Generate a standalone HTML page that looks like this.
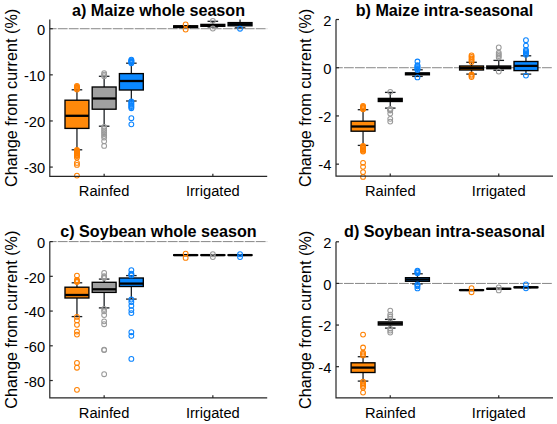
<!DOCTYPE html>
<html><head><meta charset="utf-8"><style>
html,body{margin:0;padding:0;background:#fff;}
body{width:557px;height:424px;overflow:hidden;}
svg{display:block;font-family:"Liberation Sans", sans-serif;}
text{fill:#000;}
</style></head><body>
<svg width="557" height="424" viewBox="0 0 557 424">
<rect width="557" height="424" fill="#fff"/>
<line x1="49.8" y1="28.72" x2="267.2" y2="28.72" stroke="#707070" stroke-width="0.85" stroke-dasharray="9.8 1.2" stroke-dashoffset="3"/>
<line x1="76.95" y1="89.8" x2="76.95" y2="100.2" stroke="#1e2226" stroke-width="1.3"/>
<line x1="76.95" y1="128.4" x2="76.95" y2="149.8" stroke="#1e2226" stroke-width="1.3"/>
<line x1="71.65" y1="89.8" x2="82.25" y2="89.8" stroke="#1e2226" stroke-width="1.3"/>
<line x1="71.65" y1="149.8" x2="82.25" y2="149.8" stroke="#1e2226" stroke-width="1.3"/>
<rect x="65" y="100.2" width="23.9" height="28.2" fill="#ff890a" stroke="#000" stroke-width="1.35"/>
<line x1="65.1" y1="115.8" x2="88.8" y2="115.8" stroke="#000" stroke-width="2.3"/>
<circle cx="76.95" cy="86" r="2.4" fill="none" stroke="#ff8000" stroke-width="1.05"/>
<circle cx="76.95" cy="86.88" r="2.4" fill="none" stroke="#ff8000" stroke-width="1.05"/>
<circle cx="76.95" cy="87.75" r="2.4" fill="none" stroke="#ff8000" stroke-width="1.05"/>
<circle cx="76.95" cy="88.62" r="2.4" fill="none" stroke="#ff8000" stroke-width="1.05"/>
<circle cx="76.95" cy="89.5" r="2.4" fill="none" stroke="#ff8000" stroke-width="1.05"/>
<circle cx="76.95" cy="150" r="2.4" fill="none" stroke="#ff8000" stroke-width="1.05"/>
<circle cx="76.95" cy="150.75" r="2.4" fill="none" stroke="#ff8000" stroke-width="1.05"/>
<circle cx="76.95" cy="151.5" r="2.4" fill="none" stroke="#ff8000" stroke-width="1.05"/>
<circle cx="76.95" cy="152.25" r="2.4" fill="none" stroke="#ff8000" stroke-width="1.05"/>
<circle cx="76.95" cy="153" r="2.4" fill="none" stroke="#ff8000" stroke-width="1.05"/>
<circle cx="76.95" cy="153.75" r="2.4" fill="none" stroke="#ff8000" stroke-width="1.05"/>
<circle cx="76.95" cy="154.5" r="2.4" fill="none" stroke="#ff8000" stroke-width="1.05"/>
<circle cx="76.95" cy="155.25" r="2.4" fill="none" stroke="#ff8000" stroke-width="1.05"/>
<circle cx="76.95" cy="156" r="2.4" fill="none" stroke="#ff8000" stroke-width="1.05"/>
<circle cx="76.95" cy="157.6" r="2.4" fill="none" stroke="#ff8000" stroke-width="1.05"/>
<circle cx="76.95" cy="162.9" r="2.4" fill="none" stroke="#ff8000" stroke-width="1.05"/>
<circle cx="76.95" cy="164.9" r="2.4" fill="none" stroke="#ff8000" stroke-width="1.05"/>
<circle cx="76.95" cy="175.6" r="2.4" fill="none" stroke="#ff8000" stroke-width="1.05"/>
<line x1="104.15" y1="76.3" x2="104.15" y2="87" stroke="#1e2226" stroke-width="1.3"/>
<line x1="104.15" y1="109.2" x2="104.15" y2="126.2" stroke="#1e2226" stroke-width="1.3"/>
<line x1="98.85" y1="76.3" x2="109.45" y2="76.3" stroke="#1e2226" stroke-width="1.3"/>
<line x1="98.85" y1="126.2" x2="109.45" y2="126.2" stroke="#1e2226" stroke-width="1.3"/>
<rect x="92.2" y="87" width="23.9" height="22.2" fill="#a0a0a0" stroke="#000" stroke-width="1.35"/>
<line x1="92.3" y1="98.5" x2="116" y2="98.5" stroke="#000" stroke-width="2.3"/>
<circle cx="104.15" cy="73.2" r="2.4" fill="none" stroke="#9a9a9a" stroke-width="1.05"/>
<circle cx="104.15" cy="74.7" r="2.4" fill="none" stroke="#9a9a9a" stroke-width="1.05"/>
<circle cx="104.15" cy="76.2" r="2.4" fill="none" stroke="#9a9a9a" stroke-width="1.05"/>
<circle cx="104.15" cy="126.8" r="2.4" fill="none" stroke="#9a9a9a" stroke-width="1.05"/>
<circle cx="104.15" cy="128.6" r="2.4" fill="none" stroke="#9a9a9a" stroke-width="1.05"/>
<circle cx="104.15" cy="130.4" r="2.4" fill="none" stroke="#9a9a9a" stroke-width="1.05"/>
<circle cx="104.15" cy="132.2" r="2.4" fill="none" stroke="#9a9a9a" stroke-width="1.05"/>
<circle cx="104.15" cy="134" r="2.4" fill="none" stroke="#9a9a9a" stroke-width="1.05"/>
<circle cx="104.15" cy="135.8" r="2.4" fill="none" stroke="#9a9a9a" stroke-width="1.05"/>
<circle cx="104.15" cy="137.6" r="2.4" fill="none" stroke="#9a9a9a" stroke-width="1.05"/>
<circle cx="104.15" cy="141.2" r="2.4" fill="none" stroke="#9a9a9a" stroke-width="1.05"/>
<circle cx="104.15" cy="145.9" r="2.4" fill="none" stroke="#9a9a9a" stroke-width="1.05"/>
<line x1="131.35" y1="63.2" x2="131.35" y2="73.6" stroke="#1e2226" stroke-width="1.3"/>
<line x1="131.35" y1="90" x2="131.35" y2="101" stroke="#1e2226" stroke-width="1.3"/>
<line x1="126.05" y1="63.2" x2="136.65" y2="63.2" stroke="#1e2226" stroke-width="1.3"/>
<line x1="126.05" y1="101" x2="136.65" y2="101" stroke="#1e2226" stroke-width="1.3"/>
<rect x="119.4" y="73.6" width="23.9" height="16.4" fill="#0a88ff" stroke="#000" stroke-width="1.35"/>
<line x1="119.5" y1="81" x2="143.2" y2="81" stroke="#000" stroke-width="2.3"/>
<circle cx="131.35" cy="59.7" r="2.4" fill="none" stroke="#0a84ff" stroke-width="1.05"/>
<circle cx="131.35" cy="60.4" r="2.4" fill="none" stroke="#0a84ff" stroke-width="1.05"/>
<circle cx="131.35" cy="61.1" r="2.4" fill="none" stroke="#0a84ff" stroke-width="1.05"/>
<circle cx="131.35" cy="61.8" r="2.4" fill="none" stroke="#0a84ff" stroke-width="1.05"/>
<circle cx="131.35" cy="62.5" r="2.4" fill="none" stroke="#0a84ff" stroke-width="1.05"/>
<circle cx="131.35" cy="63.2" r="2.4" fill="none" stroke="#0a84ff" stroke-width="1.05"/>
<circle cx="131.35" cy="101.5" r="2.4" fill="none" stroke="#0a84ff" stroke-width="1.05"/>
<circle cx="131.35" cy="102.62" r="2.4" fill="none" stroke="#0a84ff" stroke-width="1.05"/>
<circle cx="131.35" cy="103.73" r="2.4" fill="none" stroke="#0a84ff" stroke-width="1.05"/>
<circle cx="131.35" cy="104.85" r="2.4" fill="none" stroke="#0a84ff" stroke-width="1.05"/>
<circle cx="131.35" cy="105.97" r="2.4" fill="none" stroke="#0a84ff" stroke-width="1.05"/>
<circle cx="131.35" cy="107.08" r="2.4" fill="none" stroke="#0a84ff" stroke-width="1.05"/>
<circle cx="131.35" cy="108.2" r="2.4" fill="none" stroke="#0a84ff" stroke-width="1.05"/>
<circle cx="131.35" cy="118.2" r="2.4" fill="none" stroke="#0a84ff" stroke-width="1.05"/>
<circle cx="131.35" cy="124.3" r="2.4" fill="none" stroke="#0a84ff" stroke-width="1.05"/>
<line x1="185.65" y1="25.8" x2="185.65" y2="25.8" stroke="#1e2226" stroke-width="1.3"/>
<line x1="185.65" y1="27.5" x2="185.65" y2="27.5" stroke="#1e2226" stroke-width="1.3"/>
<line x1="180.35" y1="25.8" x2="190.95" y2="25.8" stroke="#1e2226" stroke-width="1.3"/>
<line x1="180.35" y1="27.5" x2="190.95" y2="27.5" stroke="#1e2226" stroke-width="1.3"/>
<rect x="173.7" y="25.8" width="23.9" height="1.7" fill="#ff890a" stroke="#000" stroke-width="1.35"/>
<line x1="173.8" y1="26.65" x2="197.5" y2="26.65" stroke="#000" stroke-width="2.3"/>
<circle cx="185.65" cy="24.3" r="2.4" fill="none" stroke="#ff8000" stroke-width="1.05"/>
<circle cx="185.65" cy="29.6" r="2.4" fill="none" stroke="#ff8000" stroke-width="1.05"/>
<line x1="212.85" y1="21.3" x2="212.85" y2="24.4" stroke="#1e2226" stroke-width="1.3"/>
<line x1="212.85" y1="26.3" x2="212.85" y2="27" stroke="#1e2226" stroke-width="1.3"/>
<line x1="207.55" y1="21.3" x2="218.15" y2="21.3" stroke="#1e2226" stroke-width="1.3"/>
<line x1="207.55" y1="27" x2="218.15" y2="27" stroke="#1e2226" stroke-width="1.3"/>
<rect x="200.9" y="24.4" width="23.9" height="1.9" fill="#a0a0a0" stroke="#000" stroke-width="1.35"/>
<line x1="201" y1="25.35" x2="224.7" y2="25.35" stroke="#000" stroke-width="2.3"/>
<circle cx="212.85" cy="20.8" r="2.4" fill="none" stroke="#9a9a9a" stroke-width="1.05"/>
<circle cx="212.85" cy="28.5" r="2.4" fill="none" stroke="#9a9a9a" stroke-width="1.05"/>
<line x1="240.05" y1="19.5" x2="240.05" y2="22.6" stroke="#1e2226" stroke-width="1.3"/>
<line x1="240.05" y1="25.8" x2="240.05" y2="27.8" stroke="#1e2226" stroke-width="1.3"/>
<line x1="234.75" y1="27.8" x2="245.35" y2="27.8" stroke="#1e2226" stroke-width="1.3"/>
<rect x="228.1" y="22.6" width="23.9" height="3.2" fill="#0a88ff" stroke="#000" stroke-width="1.35"/>
<line x1="228.2" y1="24.2" x2="251.9" y2="24.2" stroke="#000" stroke-width="2.3"/>
<circle cx="240.05" cy="28.7" r="2.4" fill="none" stroke="#0a84ff" stroke-width="1.05"/>
<path d="M49.8 19.5V176.3H267.2" fill="none" stroke="#262626" stroke-width="1.2"/>
<line x1="49.8" y1="28.72" x2="52.8" y2="28.72" stroke="#262626" stroke-width="1.2"/>
<text x="45.2" y="34.92" text-anchor="end" font-size="14.7">0</text>
<line x1="49.8" y1="74.84" x2="52.8" y2="74.84" stroke="#262626" stroke-width="1.2"/>
<text x="45.2" y="81.04" text-anchor="end" font-size="14.7">-10</text>
<line x1="49.8" y1="120.96" x2="52.8" y2="120.96" stroke="#262626" stroke-width="1.2"/>
<text x="45.2" y="127.16" text-anchor="end" font-size="14.7">-20</text>
<line x1="49.8" y1="167.08" x2="52.8" y2="167.08" stroke="#262626" stroke-width="1.2"/>
<text x="45.2" y="173.28" text-anchor="end" font-size="14.7">-30</text>
<line x1="104.15" y1="176.3" x2="104.15" y2="173.7" stroke="#262626" stroke-width="1.2"/>
<text x="104.15" y="196.05" text-anchor="middle" font-size="14.7">Rainfed</text>
<line x1="212.85" y1="176.3" x2="212.85" y2="173.7" stroke="#262626" stroke-width="1.2"/>
<text x="212.85" y="196.05" text-anchor="middle" font-size="14.7">Irrigated</text>
<text x="158.5" y="15.6" text-anchor="middle" font-size="16.15" font-weight="bold">a) Maize whole season</text>
<text transform="translate(17 97.9) rotate(-90)" text-anchor="middle" font-size="16.2">Change from current (%)</text>
<line x1="336" y1="67.72" x2="553" y2="67.72" stroke="#707070" stroke-width="0.85" stroke-dasharray="9.8 1.2" stroke-dashoffset="3"/>
<line x1="363.05" y1="109.7" x2="363.05" y2="121.2" stroke="#1e2226" stroke-width="1.3"/>
<line x1="363.05" y1="131.2" x2="363.05" y2="145.4" stroke="#1e2226" stroke-width="1.3"/>
<line x1="357.75" y1="109.7" x2="368.35" y2="109.7" stroke="#1e2226" stroke-width="1.3"/>
<line x1="357.75" y1="145.4" x2="368.35" y2="145.4" stroke="#1e2226" stroke-width="1.3"/>
<rect x="351.1" y="121.2" width="23.9" height="10" fill="#ff890a" stroke="#000" stroke-width="1.35"/>
<line x1="351.2" y1="126.5" x2="374.9" y2="126.5" stroke="#000" stroke-width="2.3"/>
<circle cx="363.05" cy="106" r="2.4" fill="none" stroke="#ff8000" stroke-width="1.05"/>
<circle cx="363.05" cy="106.83" r="2.4" fill="none" stroke="#ff8000" stroke-width="1.05"/>
<circle cx="363.05" cy="107.65" r="2.4" fill="none" stroke="#ff8000" stroke-width="1.05"/>
<circle cx="363.05" cy="108.47" r="2.4" fill="none" stroke="#ff8000" stroke-width="1.05"/>
<circle cx="363.05" cy="109.3" r="2.4" fill="none" stroke="#ff8000" stroke-width="1.05"/>
<circle cx="363.05" cy="146" r="2.4" fill="none" stroke="#ff8000" stroke-width="1.05"/>
<circle cx="363.05" cy="146.79" r="2.4" fill="none" stroke="#ff8000" stroke-width="1.05"/>
<circle cx="363.05" cy="147.57" r="2.4" fill="none" stroke="#ff8000" stroke-width="1.05"/>
<circle cx="363.05" cy="148.36" r="2.4" fill="none" stroke="#ff8000" stroke-width="1.05"/>
<circle cx="363.05" cy="149.14" r="2.4" fill="none" stroke="#ff8000" stroke-width="1.05"/>
<circle cx="363.05" cy="149.93" r="2.4" fill="none" stroke="#ff8000" stroke-width="1.05"/>
<circle cx="363.05" cy="150.71" r="2.4" fill="none" stroke="#ff8000" stroke-width="1.05"/>
<circle cx="363.05" cy="151.5" r="2.4" fill="none" stroke="#ff8000" stroke-width="1.05"/>
<circle cx="363.05" cy="162.8" r="2.4" fill="none" stroke="#ff8000" stroke-width="1.05"/>
<circle cx="363.05" cy="166.8" r="2.4" fill="none" stroke="#ff8000" stroke-width="1.05"/>
<circle cx="363.05" cy="172.1" r="2.4" fill="none" stroke="#ff8000" stroke-width="1.05"/>
<circle cx="363.05" cy="176.9" r="2.4" fill="none" stroke="#ff8000" stroke-width="1.05"/>
<line x1="390.25" y1="92.4" x2="390.25" y2="98.4" stroke="#1e2226" stroke-width="1.3"/>
<line x1="390.25" y1="101.5" x2="390.25" y2="108.1" stroke="#1e2226" stroke-width="1.3"/>
<line x1="384.95" y1="92.4" x2="395.55" y2="92.4" stroke="#1e2226" stroke-width="1.3"/>
<line x1="384.95" y1="108.1" x2="395.55" y2="108.1" stroke="#1e2226" stroke-width="1.3"/>
<rect x="378.3" y="98.4" width="23.9" height="3.1" fill="#a0a0a0" stroke="#000" stroke-width="1.35"/>
<line x1="378.4" y1="99.95" x2="402.1" y2="99.95" stroke="#000" stroke-width="2.3"/>
<circle cx="390.25" cy="91.8" r="2.4" fill="none" stroke="#9a9a9a" stroke-width="1.05"/>
<circle cx="390.25" cy="108.8" r="2.4" fill="none" stroke="#9a9a9a" stroke-width="1.05"/>
<circle cx="390.25" cy="109.4" r="2.4" fill="none" stroke="#9a9a9a" stroke-width="1.05"/>
<circle cx="390.25" cy="110" r="2.4" fill="none" stroke="#9a9a9a" stroke-width="1.05"/>
<circle cx="390.25" cy="110.6" r="2.4" fill="none" stroke="#9a9a9a" stroke-width="1.05"/>
<circle cx="390.25" cy="113.6" r="2.4" fill="none" stroke="#9a9a9a" stroke-width="1.05"/>
<circle cx="390.25" cy="118.8" r="2.4" fill="none" stroke="#9a9a9a" stroke-width="1.05"/>
<circle cx="390.25" cy="121.6" r="2.4" fill="none" stroke="#9a9a9a" stroke-width="1.05"/>
<line x1="417.45" y1="69.8" x2="417.45" y2="72.9" stroke="#1e2226" stroke-width="1.3"/>
<line x1="417.45" y1="74.8" x2="417.45" y2="76.4" stroke="#1e2226" stroke-width="1.3"/>
<line x1="412.15" y1="69.8" x2="422.75" y2="69.8" stroke="#1e2226" stroke-width="1.3"/>
<line x1="412.15" y1="76.4" x2="422.75" y2="76.4" stroke="#1e2226" stroke-width="1.3"/>
<rect x="405.5" y="72.9" width="23.9" height="1.9" fill="#0a88ff" stroke="#000" stroke-width="1.35"/>
<line x1="405.6" y1="73.85" x2="429.3" y2="73.85" stroke="#000" stroke-width="2.3"/>
<circle cx="417.45" cy="61.5" r="2.4" fill="none" stroke="#0a84ff" stroke-width="1.05"/>
<circle cx="417.45" cy="65.2" r="2.4" fill="none" stroke="#0a84ff" stroke-width="1.05"/>
<circle cx="417.45" cy="66.16" r="2.4" fill="none" stroke="#0a84ff" stroke-width="1.05"/>
<circle cx="417.45" cy="67.12" r="2.4" fill="none" stroke="#0a84ff" stroke-width="1.05"/>
<circle cx="417.45" cy="68.08" r="2.4" fill="none" stroke="#0a84ff" stroke-width="1.05"/>
<circle cx="417.45" cy="69.04" r="2.4" fill="none" stroke="#0a84ff" stroke-width="1.05"/>
<circle cx="417.45" cy="70" r="2.4" fill="none" stroke="#0a84ff" stroke-width="1.05"/>
<circle cx="417.45" cy="77.4" r="2.4" fill="none" stroke="#0a84ff" stroke-width="1.05"/>
<line x1="471.55" y1="62.3" x2="471.55" y2="66" stroke="#1e2226" stroke-width="1.3"/>
<line x1="471.55" y1="70" x2="471.55" y2="74.1" stroke="#1e2226" stroke-width="1.3"/>
<line x1="466.25" y1="62.3" x2="476.85" y2="62.3" stroke="#1e2226" stroke-width="1.3"/>
<line x1="466.25" y1="74.1" x2="476.85" y2="74.1" stroke="#1e2226" stroke-width="1.3"/>
<rect x="459.6" y="66" width="23.9" height="4" fill="#ff890a" stroke="#000" stroke-width="1.35"/>
<line x1="459.7" y1="68" x2="483.4" y2="68" stroke="#000" stroke-width="2.3"/>
<circle cx="471.55" cy="55.4" r="2.4" fill="none" stroke="#ff8000" stroke-width="1.05"/>
<circle cx="471.55" cy="57.05" r="2.4" fill="none" stroke="#ff8000" stroke-width="1.05"/>
<circle cx="471.55" cy="58.7" r="2.4" fill="none" stroke="#ff8000" stroke-width="1.05"/>
<circle cx="471.55" cy="60.35" r="2.4" fill="none" stroke="#ff8000" stroke-width="1.05"/>
<circle cx="471.55" cy="62" r="2.4" fill="none" stroke="#ff8000" stroke-width="1.05"/>
<circle cx="471.55" cy="74.5" r="2.4" fill="none" stroke="#ff8000" stroke-width="1.05"/>
<circle cx="471.55" cy="75.75" r="2.4" fill="none" stroke="#ff8000" stroke-width="1.05"/>
<circle cx="471.55" cy="77" r="2.4" fill="none" stroke="#ff8000" stroke-width="1.05"/>
<line x1="498.75" y1="60.4" x2="498.75" y2="66" stroke="#1e2226" stroke-width="1.3"/>
<line x1="498.75" y1="68.7" x2="498.75" y2="70.3" stroke="#1e2226" stroke-width="1.3"/>
<line x1="493.45" y1="60.4" x2="504.05" y2="60.4" stroke="#1e2226" stroke-width="1.3"/>
<line x1="493.45" y1="70.3" x2="504.05" y2="70.3" stroke="#1e2226" stroke-width="1.3"/>
<rect x="486.8" y="66" width="23.9" height="2.7" fill="#a0a0a0" stroke="#000" stroke-width="1.35"/>
<line x1="486.9" y1="67.35" x2="510.6" y2="67.35" stroke="#000" stroke-width="2.3"/>
<circle cx="498.75" cy="47.4" r="2.4" fill="none" stroke="#9a9a9a" stroke-width="1.05"/>
<circle cx="498.75" cy="52.8" r="2.4" fill="none" stroke="#9a9a9a" stroke-width="1.05"/>
<circle cx="498.75" cy="54.4" r="2.4" fill="none" stroke="#9a9a9a" stroke-width="1.05"/>
<circle cx="498.75" cy="56" r="2.4" fill="none" stroke="#9a9a9a" stroke-width="1.05"/>
<circle cx="498.75" cy="57.6" r="2.4" fill="none" stroke="#9a9a9a" stroke-width="1.05"/>
<circle cx="498.75" cy="71.5" r="2.4" fill="none" stroke="#9a9a9a" stroke-width="1.05"/>
<line x1="525.95" y1="55.8" x2="525.95" y2="61.5" stroke="#1e2226" stroke-width="1.3"/>
<line x1="525.95" y1="70.6" x2="525.95" y2="74.1" stroke="#1e2226" stroke-width="1.3"/>
<line x1="520.65" y1="55.8" x2="531.25" y2="55.8" stroke="#1e2226" stroke-width="1.3"/>
<line x1="520.65" y1="74.1" x2="531.25" y2="74.1" stroke="#1e2226" stroke-width="1.3"/>
<rect x="514" y="61.5" width="23.9" height="9.1" fill="#0a88ff" stroke="#000" stroke-width="1.35"/>
<line x1="514.1" y1="65.9" x2="537.8" y2="65.9" stroke="#000" stroke-width="2.3"/>
<circle cx="525.95" cy="40.2" r="2.4" fill="none" stroke="#0a84ff" stroke-width="1.05"/>
<circle cx="525.95" cy="45.6" r="2.4" fill="none" stroke="#0a84ff" stroke-width="1.05"/>
<circle cx="525.95" cy="50" r="2.4" fill="none" stroke="#0a84ff" stroke-width="1.05"/>
<circle cx="525.95" cy="51.2" r="2.4" fill="none" stroke="#0a84ff" stroke-width="1.05"/>
<circle cx="525.95" cy="52.4" r="2.4" fill="none" stroke="#0a84ff" stroke-width="1.05"/>
<circle cx="525.95" cy="53.6" r="2.4" fill="none" stroke="#0a84ff" stroke-width="1.05"/>
<circle cx="525.95" cy="54.8" r="2.4" fill="none" stroke="#0a84ff" stroke-width="1.05"/>
<circle cx="525.95" cy="75.6" r="2.4" fill="none" stroke="#0a84ff" stroke-width="1.05"/>
<path d="M336 19.5V176.2H553" fill="none" stroke="#262626" stroke-width="1.2"/>
<line x1="336" y1="19.5" x2="339" y2="19.5" stroke="#262626" stroke-width="1.2"/>
<text x="331.4" y="25.7" text-anchor="end" font-size="14.7">2</text>
<line x1="336" y1="67.72" x2="339" y2="67.72" stroke="#262626" stroke-width="1.2"/>
<text x="331.4" y="73.92" text-anchor="end" font-size="14.7">0</text>
<line x1="336" y1="115.93" x2="339" y2="115.93" stroke="#262626" stroke-width="1.2"/>
<text x="331.4" y="122.13" text-anchor="end" font-size="14.7">-2</text>
<line x1="336" y1="164.15" x2="339" y2="164.15" stroke="#262626" stroke-width="1.2"/>
<text x="331.4" y="170.35" text-anchor="end" font-size="14.7">-4</text>
<line x1="390.25" y1="176.2" x2="390.25" y2="173.6" stroke="#262626" stroke-width="1.2"/>
<text x="390.25" y="195.95" text-anchor="middle" font-size="14.7">Rainfed</text>
<line x1="498.75" y1="176.2" x2="498.75" y2="173.6" stroke="#262626" stroke-width="1.2"/>
<text x="498.75" y="195.95" text-anchor="middle" font-size="14.7">Irrigated</text>
<text x="444.5" y="15.6" text-anchor="middle" font-size="16.15" font-weight="bold">b) Maize intra-seasonal</text>
<text transform="translate(311.3 97.85) rotate(-90)" text-anchor="middle" font-size="16.2">Change from current (%)</text>
<line x1="49.8" y1="241.6" x2="267.2" y2="241.6" stroke="#707070" stroke-width="0.85" stroke-dasharray="9.8 1.2" stroke-dashoffset="3"/>
<line x1="76.95" y1="282.8" x2="76.95" y2="287.2" stroke="#1e2226" stroke-width="1.3"/>
<line x1="76.95" y1="298" x2="76.95" y2="316.6" stroke="#1e2226" stroke-width="1.3"/>
<line x1="71.65" y1="282.8" x2="82.25" y2="282.8" stroke="#1e2226" stroke-width="1.3"/>
<line x1="71.65" y1="316.6" x2="82.25" y2="316.6" stroke="#1e2226" stroke-width="1.3"/>
<rect x="65" y="287.2" width="23.9" height="10.8" fill="#ff890a" stroke="#000" stroke-width="1.35"/>
<line x1="65.1" y1="295" x2="88.8" y2="295" stroke="#000" stroke-width="2.3"/>
<circle cx="76.95" cy="275.6" r="2.4" fill="none" stroke="#ff8000" stroke-width="1.05"/>
<circle cx="76.95" cy="280" r="2.4" fill="none" stroke="#ff8000" stroke-width="1.05"/>
<circle cx="76.95" cy="280.67" r="2.4" fill="none" stroke="#ff8000" stroke-width="1.05"/>
<circle cx="76.95" cy="281.33" r="2.4" fill="none" stroke="#ff8000" stroke-width="1.05"/>
<circle cx="76.95" cy="282" r="2.4" fill="none" stroke="#ff8000" stroke-width="1.05"/>
<circle cx="76.95" cy="316.9" r="2.4" fill="none" stroke="#ff8000" stroke-width="1.05"/>
<circle cx="76.95" cy="320.4" r="2.4" fill="none" stroke="#ff8000" stroke-width="1.05"/>
<circle cx="76.95" cy="324.8" r="2.4" fill="none" stroke="#ff8000" stroke-width="1.05"/>
<circle cx="76.95" cy="331.6" r="2.4" fill="none" stroke="#ff8000" stroke-width="1.05"/>
<circle cx="76.95" cy="334.6" r="2.4" fill="none" stroke="#ff8000" stroke-width="1.05"/>
<circle cx="76.95" cy="362.9" r="2.4" fill="none" stroke="#ff8000" stroke-width="1.05"/>
<circle cx="76.95" cy="367.7" r="2.4" fill="none" stroke="#ff8000" stroke-width="1.05"/>
<circle cx="76.95" cy="389.8" r="2.4" fill="none" stroke="#ff8000" stroke-width="1.05"/>
<line x1="104.15" y1="279.1" x2="104.15" y2="282.3" stroke="#1e2226" stroke-width="1.3"/>
<line x1="104.15" y1="292.4" x2="104.15" y2="307.9" stroke="#1e2226" stroke-width="1.3"/>
<line x1="98.85" y1="279.1" x2="109.45" y2="279.1" stroke="#1e2226" stroke-width="1.3"/>
<line x1="98.85" y1="307.9" x2="109.45" y2="307.9" stroke="#1e2226" stroke-width="1.3"/>
<rect x="92.2" y="282.3" width="23.9" height="10.1" fill="#a0a0a0" stroke="#000" stroke-width="1.35"/>
<line x1="92.3" y1="289.3" x2="116" y2="289.3" stroke="#000" stroke-width="2.3"/>
<circle cx="104.15" cy="272.9" r="2.4" fill="none" stroke="#9a9a9a" stroke-width="1.05"/>
<circle cx="104.15" cy="276.2" r="2.4" fill="none" stroke="#9a9a9a" stroke-width="1.05"/>
<circle cx="104.15" cy="277.1" r="2.4" fill="none" stroke="#9a9a9a" stroke-width="1.05"/>
<circle cx="104.15" cy="278" r="2.4" fill="none" stroke="#9a9a9a" stroke-width="1.05"/>
<circle cx="104.15" cy="308.9" r="2.4" fill="none" stroke="#9a9a9a" stroke-width="1.05"/>
<circle cx="104.15" cy="311.3" r="2.4" fill="none" stroke="#9a9a9a" stroke-width="1.05"/>
<circle cx="104.15" cy="315" r="2.4" fill="none" stroke="#9a9a9a" stroke-width="1.05"/>
<circle cx="104.15" cy="321.3" r="2.4" fill="none" stroke="#9a9a9a" stroke-width="1.05"/>
<circle cx="104.15" cy="324.2" r="2.4" fill="none" stroke="#9a9a9a" stroke-width="1.05"/>
<circle cx="104.15" cy="349.7" r="2.4" fill="none" stroke="#9a9a9a" stroke-width="1.05"/>
<circle cx="104.15" cy="350.1" r="2.4" fill="none" stroke="#9a9a9a" stroke-width="1.05"/>
<circle cx="104.15" cy="374.2" r="2.4" fill="none" stroke="#9a9a9a" stroke-width="1.05"/>
<line x1="131.35" y1="275.6" x2="131.35" y2="278" stroke="#1e2226" stroke-width="1.3"/>
<line x1="131.35" y1="286.5" x2="131.35" y2="299.1" stroke="#1e2226" stroke-width="1.3"/>
<line x1="126.05" y1="275.6" x2="136.65" y2="275.6" stroke="#1e2226" stroke-width="1.3"/>
<line x1="126.05" y1="299.1" x2="136.65" y2="299.1" stroke="#1e2226" stroke-width="1.3"/>
<rect x="119.4" y="278" width="23.9" height="8.5" fill="#0a88ff" stroke="#000" stroke-width="1.35"/>
<line x1="119.5" y1="283.6" x2="143.2" y2="283.6" stroke="#000" stroke-width="2.3"/>
<circle cx="131.35" cy="270.2" r="2.4" fill="none" stroke="#0a84ff" stroke-width="1.05"/>
<circle cx="131.35" cy="273.6" r="2.4" fill="none" stroke="#0a84ff" stroke-width="1.05"/>
<circle cx="131.35" cy="274.5" r="2.4" fill="none" stroke="#0a84ff" stroke-width="1.05"/>
<circle cx="131.35" cy="275.4" r="2.4" fill="none" stroke="#0a84ff" stroke-width="1.05"/>
<circle cx="131.35" cy="299.5" r="2.4" fill="none" stroke="#0a84ff" stroke-width="1.05"/>
<circle cx="131.35" cy="302.1" r="2.4" fill="none" stroke="#0a84ff" stroke-width="1.05"/>
<circle cx="131.35" cy="305.7" r="2.4" fill="none" stroke="#0a84ff" stroke-width="1.05"/>
<circle cx="131.35" cy="310.1" r="2.4" fill="none" stroke="#0a84ff" stroke-width="1.05"/>
<circle cx="131.35" cy="313.1" r="2.4" fill="none" stroke="#0a84ff" stroke-width="1.05"/>
<circle cx="131.35" cy="332.2" r="2.4" fill="none" stroke="#0a84ff" stroke-width="1.05"/>
<circle cx="131.35" cy="335.8" r="2.4" fill="none" stroke="#0a84ff" stroke-width="1.05"/>
<circle cx="131.35" cy="358.9" r="2.4" fill="none" stroke="#0a84ff" stroke-width="1.05"/>
<line x1="185.65" y1="254.8" x2="185.65" y2="254.8" stroke="#1e2226" stroke-width="1.3"/>
<line x1="185.65" y1="255.4" x2="185.65" y2="255.4" stroke="#1e2226" stroke-width="1.3"/>
<line x1="180.35" y1="254.8" x2="190.95" y2="254.8" stroke="#1e2226" stroke-width="1.3"/>
<line x1="180.35" y1="255.4" x2="190.95" y2="255.4" stroke="#1e2226" stroke-width="1.3"/>
<rect x="173.7" y="254.8" width="23.9" height="0.6" fill="#ff890a" stroke="#000" stroke-width="1.35"/>
<line x1="173.8" y1="255.1" x2="197.5" y2="255.1" stroke="#000" stroke-width="2.3"/>
<circle cx="185.65" cy="253.6" r="2.4" fill="none" stroke="#ff8000" stroke-width="1.05"/>
<circle cx="185.65" cy="257.9" r="2.4" fill="none" stroke="#ff8000" stroke-width="1.05"/>
<line x1="212.85" y1="254.8" x2="212.85" y2="254.8" stroke="#1e2226" stroke-width="1.3"/>
<line x1="212.85" y1="255.4" x2="212.85" y2="255.4" stroke="#1e2226" stroke-width="1.3"/>
<line x1="207.55" y1="254.8" x2="218.15" y2="254.8" stroke="#1e2226" stroke-width="1.3"/>
<line x1="207.55" y1="255.4" x2="218.15" y2="255.4" stroke="#1e2226" stroke-width="1.3"/>
<rect x="200.9" y="254.8" width="23.9" height="0.6" fill="#a0a0a0" stroke="#000" stroke-width="1.35"/>
<line x1="201" y1="255.1" x2="224.7" y2="255.1" stroke="#000" stroke-width="2.3"/>
<circle cx="212.85" cy="254.2" r="2.4" fill="none" stroke="#9a9a9a" stroke-width="1.05"/>
<circle cx="212.85" cy="257" r="2.4" fill="none" stroke="#9a9a9a" stroke-width="1.05"/>
<line x1="240.05" y1="254.8" x2="240.05" y2="254.8" stroke="#1e2226" stroke-width="1.3"/>
<line x1="240.05" y1="255.4" x2="240.05" y2="255.4" stroke="#1e2226" stroke-width="1.3"/>
<line x1="234.75" y1="254.8" x2="245.35" y2="254.8" stroke="#1e2226" stroke-width="1.3"/>
<line x1="234.75" y1="255.4" x2="245.35" y2="255.4" stroke="#1e2226" stroke-width="1.3"/>
<rect x="228.1" y="254.8" width="23.9" height="0.6" fill="#0a88ff" stroke="#000" stroke-width="1.35"/>
<line x1="228.2" y1="255.1" x2="251.9" y2="255.1" stroke="#000" stroke-width="2.3"/>
<circle cx="240.05" cy="254.2" r="2.4" fill="none" stroke="#0a84ff" stroke-width="1.05"/>
<circle cx="240.05" cy="257" r="2.4" fill="none" stroke="#0a84ff" stroke-width="1.05"/>
<path d="M49.8 241.6V397.9H267.2" fill="none" stroke="#262626" stroke-width="1.2"/>
<line x1="49.8" y1="241.6" x2="52.8" y2="241.6" stroke="#262626" stroke-width="1.2"/>
<text x="45.2" y="247.8" text-anchor="end" font-size="14.7">0</text>
<line x1="49.8" y1="276.33" x2="52.8" y2="276.33" stroke="#262626" stroke-width="1.2"/>
<text x="45.2" y="282.53" text-anchor="end" font-size="14.7">-20</text>
<line x1="49.8" y1="311.07" x2="52.8" y2="311.07" stroke="#262626" stroke-width="1.2"/>
<text x="45.2" y="317.27" text-anchor="end" font-size="14.7">-40</text>
<line x1="49.8" y1="345.8" x2="52.8" y2="345.8" stroke="#262626" stroke-width="1.2"/>
<text x="45.2" y="352" text-anchor="end" font-size="14.7">-60</text>
<line x1="49.8" y1="380.53" x2="52.8" y2="380.53" stroke="#262626" stroke-width="1.2"/>
<text x="45.2" y="386.73" text-anchor="end" font-size="14.7">-80</text>
<line x1="104.15" y1="397.9" x2="104.15" y2="395.3" stroke="#262626" stroke-width="1.2"/>
<text x="104.15" y="417.65" text-anchor="middle" font-size="14.7">Rainfed</text>
<line x1="212.85" y1="397.9" x2="212.85" y2="395.3" stroke="#262626" stroke-width="1.2"/>
<text x="212.85" y="417.65" text-anchor="middle" font-size="14.7">Irrigated</text>
<text x="158.5" y="236.9" text-anchor="middle" font-size="16.15" font-weight="bold">c) Soybean whole season</text>
<text transform="translate(17 319.75) rotate(-90)" text-anchor="middle" font-size="16.2">Change from current (%)</text>
<line x1="336" y1="283.43" x2="553" y2="283.43" stroke="#707070" stroke-width="0.85" stroke-dasharray="9.8 1.2" stroke-dashoffset="3"/>
<line x1="363.05" y1="356.7" x2="363.05" y2="362.8" stroke="#1e2226" stroke-width="1.3"/>
<line x1="363.05" y1="372.5" x2="363.05" y2="381.1" stroke="#1e2226" stroke-width="1.3"/>
<line x1="357.75" y1="356.7" x2="368.35" y2="356.7" stroke="#1e2226" stroke-width="1.3"/>
<line x1="357.75" y1="381.1" x2="368.35" y2="381.1" stroke="#1e2226" stroke-width="1.3"/>
<rect x="351.1" y="362.8" width="23.9" height="9.7" fill="#ff890a" stroke="#000" stroke-width="1.35"/>
<line x1="351.2" y1="367.6" x2="374.9" y2="367.6" stroke="#000" stroke-width="2.3"/>
<circle cx="363.05" cy="334.6" r="2.4" fill="none" stroke="#ff8000" stroke-width="1.05"/>
<circle cx="363.05" cy="347.5" r="2.4" fill="none" stroke="#ff8000" stroke-width="1.05"/>
<circle cx="363.05" cy="352.6" r="2.4" fill="none" stroke="#ff8000" stroke-width="1.05"/>
<circle cx="363.05" cy="354" r="2.4" fill="none" stroke="#ff8000" stroke-width="1.05"/>
<circle cx="363.05" cy="355.4" r="2.4" fill="none" stroke="#ff8000" stroke-width="1.05"/>
<circle cx="363.05" cy="381.6" r="2.4" fill="none" stroke="#ff8000" stroke-width="1.05"/>
<circle cx="363.05" cy="383.1" r="2.4" fill="none" stroke="#ff8000" stroke-width="1.05"/>
<circle cx="363.05" cy="384.6" r="2.4" fill="none" stroke="#ff8000" stroke-width="1.05"/>
<circle cx="363.05" cy="386.1" r="2.4" fill="none" stroke="#ff8000" stroke-width="1.05"/>
<circle cx="363.05" cy="387.6" r="2.4" fill="none" stroke="#ff8000" stroke-width="1.05"/>
<circle cx="363.05" cy="392.6" r="2.4" fill="none" stroke="#ff8000" stroke-width="1.05"/>
<line x1="390.25" y1="319.4" x2="390.25" y2="321.9" stroke="#1e2226" stroke-width="1.3"/>
<line x1="390.25" y1="325" x2="390.25" y2="328.1" stroke="#1e2226" stroke-width="1.3"/>
<line x1="384.95" y1="319.4" x2="395.55" y2="319.4" stroke="#1e2226" stroke-width="1.3"/>
<line x1="384.95" y1="328.1" x2="395.55" y2="328.1" stroke="#1e2226" stroke-width="1.3"/>
<rect x="378.3" y="321.9" width="23.9" height="3.1" fill="#a0a0a0" stroke="#000" stroke-width="1.35"/>
<line x1="378.4" y1="323.45" x2="402.1" y2="323.45" stroke="#000" stroke-width="2.3"/>
<circle cx="390.25" cy="310.6" r="2.4" fill="none" stroke="#9a9a9a" stroke-width="1.05"/>
<circle cx="390.25" cy="314.6" r="2.4" fill="none" stroke="#9a9a9a" stroke-width="1.05"/>
<circle cx="390.25" cy="316.6" r="2.4" fill="none" stroke="#9a9a9a" stroke-width="1.05"/>
<circle cx="390.25" cy="318.6" r="2.4" fill="none" stroke="#9a9a9a" stroke-width="1.05"/>
<circle cx="390.25" cy="328.6" r="2.4" fill="none" stroke="#9a9a9a" stroke-width="1.05"/>
<circle cx="390.25" cy="330.6" r="2.4" fill="none" stroke="#9a9a9a" stroke-width="1.05"/>
<circle cx="390.25" cy="332.6" r="2.4" fill="none" stroke="#9a9a9a" stroke-width="1.05"/>
<line x1="417.45" y1="273.8" x2="417.45" y2="277.7" stroke="#1e2226" stroke-width="1.3"/>
<line x1="417.45" y1="281.3" x2="417.45" y2="283.9" stroke="#1e2226" stroke-width="1.3"/>
<line x1="412.15" y1="273.8" x2="422.75" y2="273.8" stroke="#1e2226" stroke-width="1.3"/>
<line x1="412.15" y1="283.9" x2="422.75" y2="283.9" stroke="#1e2226" stroke-width="1.3"/>
<rect x="405.5" y="277.7" width="23.9" height="3.6" fill="#0a88ff" stroke="#000" stroke-width="1.35"/>
<line x1="405.6" y1="279.5" x2="429.3" y2="279.5" stroke="#000" stroke-width="2.3"/>
<circle cx="417.45" cy="270.6" r="2.4" fill="none" stroke="#0a84ff" stroke-width="1.05"/>
<circle cx="417.45" cy="271.47" r="2.4" fill="none" stroke="#0a84ff" stroke-width="1.05"/>
<circle cx="417.45" cy="272.33" r="2.4" fill="none" stroke="#0a84ff" stroke-width="1.05"/>
<circle cx="417.45" cy="273.2" r="2.4" fill="none" stroke="#0a84ff" stroke-width="1.05"/>
<circle cx="417.45" cy="284.3" r="2.4" fill="none" stroke="#0a84ff" stroke-width="1.05"/>
<circle cx="417.45" cy="285.3" r="2.4" fill="none" stroke="#0a84ff" stroke-width="1.05"/>
<circle cx="417.45" cy="286.3" r="2.4" fill="none" stroke="#0a84ff" stroke-width="1.05"/>
<circle cx="417.45" cy="288.4" r="2.4" fill="none" stroke="#0a84ff" stroke-width="1.05"/>
<line x1="471.55" y1="289.8" x2="471.55" y2="289.8" stroke="#1e2226" stroke-width="1.3"/>
<line x1="471.55" y1="290.4" x2="471.55" y2="290.4" stroke="#1e2226" stroke-width="1.3"/>
<line x1="466.25" y1="289.8" x2="476.85" y2="289.8" stroke="#1e2226" stroke-width="1.3"/>
<line x1="466.25" y1="290.4" x2="476.85" y2="290.4" stroke="#1e2226" stroke-width="1.3"/>
<rect x="459.6" y="289.8" width="23.9" height="0.6" fill="#ff890a" stroke="#000" stroke-width="1.35"/>
<line x1="459.7" y1="290.1" x2="483.4" y2="290.1" stroke="#000" stroke-width="2.3"/>
<circle cx="471.55" cy="288.1" r="2.4" fill="none" stroke="#ff8000" stroke-width="1.05"/>
<circle cx="471.55" cy="292.2" r="2.4" fill="none" stroke="#ff8000" stroke-width="1.05"/>
<line x1="498.75" y1="288.5" x2="498.75" y2="288.5" stroke="#1e2226" stroke-width="1.3"/>
<line x1="498.75" y1="289.1" x2="498.75" y2="289.1" stroke="#1e2226" stroke-width="1.3"/>
<line x1="493.45" y1="288.5" x2="504.05" y2="288.5" stroke="#1e2226" stroke-width="1.3"/>
<line x1="493.45" y1="289.1" x2="504.05" y2="289.1" stroke="#1e2226" stroke-width="1.3"/>
<rect x="486.8" y="288.5" width="23.9" height="0.6" fill="#a0a0a0" stroke="#000" stroke-width="1.35"/>
<line x1="486.9" y1="288.8" x2="510.6" y2="288.8" stroke="#000" stroke-width="2.3"/>
<circle cx="498.75" cy="287.4" r="2.4" fill="none" stroke="#9a9a9a" stroke-width="1.05"/>
<circle cx="498.75" cy="290.4" r="2.4" fill="none" stroke="#9a9a9a" stroke-width="1.05"/>
<line x1="525.95" y1="287" x2="525.95" y2="287" stroke="#1e2226" stroke-width="1.3"/>
<line x1="525.95" y1="287.6" x2="525.95" y2="287.6" stroke="#1e2226" stroke-width="1.3"/>
<line x1="520.65" y1="287" x2="531.25" y2="287" stroke="#1e2226" stroke-width="1.3"/>
<line x1="520.65" y1="287.6" x2="531.25" y2="287.6" stroke="#1e2226" stroke-width="1.3"/>
<rect x="514" y="287" width="23.9" height="0.6" fill="#0a88ff" stroke="#000" stroke-width="1.35"/>
<line x1="514.1" y1="287.3" x2="537.8" y2="287.3" stroke="#000" stroke-width="2.3"/>
<circle cx="525.95" cy="284.3" r="2.4" fill="none" stroke="#0a84ff" stroke-width="1.05"/>
<circle cx="525.95" cy="288.3" r="2.4" fill="none" stroke="#0a84ff" stroke-width="1.05"/>
<path d="M336 241.8V397.9H553" fill="none" stroke="#262626" stroke-width="1.2"/>
<line x1="336" y1="241.8" x2="339" y2="241.8" stroke="#262626" stroke-width="1.2"/>
<text x="331.4" y="248" text-anchor="end" font-size="14.7">2</text>
<line x1="336" y1="283.43" x2="339" y2="283.43" stroke="#262626" stroke-width="1.2"/>
<text x="331.4" y="289.63" text-anchor="end" font-size="14.7">0</text>
<line x1="336" y1="325.05" x2="339" y2="325.05" stroke="#262626" stroke-width="1.2"/>
<text x="331.4" y="331.25" text-anchor="end" font-size="14.7">-2</text>
<line x1="336" y1="366.68" x2="339" y2="366.68" stroke="#262626" stroke-width="1.2"/>
<text x="331.4" y="372.88" text-anchor="end" font-size="14.7">-4</text>
<line x1="390.25" y1="397.9" x2="390.25" y2="395.3" stroke="#262626" stroke-width="1.2"/>
<text x="390.25" y="417.65" text-anchor="middle" font-size="14.7">Rainfed</text>
<line x1="498.75" y1="397.9" x2="498.75" y2="395.3" stroke="#262626" stroke-width="1.2"/>
<text x="498.75" y="417.65" text-anchor="middle" font-size="14.7">Irrigated</text>
<text x="444.5" y="237" text-anchor="middle" font-size="16.15" font-weight="bold">d) Soybean intra-seasonal</text>
<text transform="translate(311.3 319.85) rotate(-90)" text-anchor="middle" font-size="16.2">Change from current (%)</text>
</svg>
</body></html>
